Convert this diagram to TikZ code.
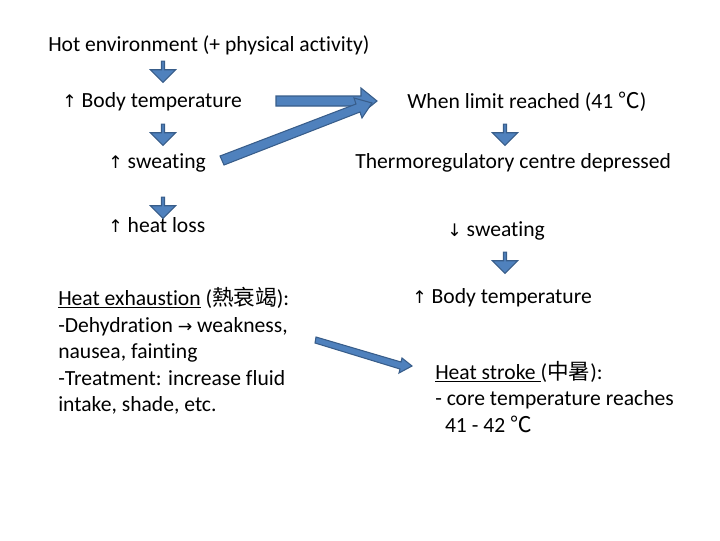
\documentclass[tikz,border=0pt]{standalone}
\usepackage{fontspec}
\setmainfont[Ligatures=NoCommon]{Carlito}
\newfontfamily\djvfont{DejaVu Sans}
\newfontfamily\cjkfont{Noto Sans CJK TC}
\usetikzlibrary{shapes.arrows}
\definecolor{afill}{RGB}{79,129,189}
\definecolor{aline}{RGB}{56,93,138}
\tikzset{
 t/.style={anchor=west,inner sep=0pt,font=\fontsize{16.2}{19}\selectfont},
 tl/.style={t,align=left,font=\fontsize{16.2}{19.9}\selectfont},
 down/.style={single arrow,fill=afill,draw=aline,line width=0.8pt,rotate=-90,minimum height=16pt,minimum width=19pt,single arrow head extend=3pt,inner sep=0pt,anchor=center},
 blk/.style={fill=afill,draw=aline,line width=0.8pt,line join=miter}
}
\newcommand{\uarr}{{\djvfont\fontsize{13}{15}\selectfont ↑}}
\newcommand{\darr}{{\djvfont\fontsize{13}{15}\selectfont ↓}}
\newcommand{\rarr}{{\djvfont\fontsize{13}{15}\selectfont →}}
\newcommand{\degc}{{\cjkfont ℃}}
\begin{document}
\begin{tikzpicture}[x=0.75pt,y=-0.75pt]
\useasboundingbox (0,0) rectangle (720,540);
\node[t] (hot) at (48,45) {Hot environment (+ physical activity)};
\node[t] (bt) at (62,102) {\uarr\ Body temperature};
\node[t] (sw) at (108,163) {\uarr\ sweating};
\node[t] (hl) at (108,225) {\uarr\ heat loss};
\node[tl,anchor=north west] (he) at (58,287) {\underline{Heat exhaustion} ({\cjkfont 熱衰竭}):\\-Dehydration \rarr\ weakness,\\nausea, fainting\\-Treatment: increase fluid\\intake, shade, etc.};
\node[t] (wl) at (407,102) {When limit reached (41 \degc)};
\node[t] (tc) at (355,163) {Thermoregulatory centre depressed};
\node[t] (dsw) at (447,231) {\darr\ sweating};
\node[t] (bt2) at (412,298) {\uarr\ Body temperature};
\node[tl,anchor=north west] (hs) at (435,361) {\underline{Heat stroke }({\cjkfont 中暑}):\\- core temperature reaches\\\ \ 41 - 42 \degc};
\node[down] (d1) at (163,71) {};
\node[down] (d2) at (163,134) {};
\node[down] (d3) at (163,207) {};
\node[down] (d4) at (505,134) {};
\node[down] (d5) at (505,262) {};
\draw[blk] (276,96)--(361,96)--(361,88)--(377,101)--(361,114)--(361,106)--(276,106)--cycle;
\draw[blk] (220,156)--(356,104)--(354,98)--(372,103)--(362,118)--(360,112)--(224,165)--cycle;
\draw[blk] (316,337)--(401,362)--(402,358)--(412,366)--(399,373)--(400,369)--(315,343)--cycle;
\end{tikzpicture}
\end{document}
